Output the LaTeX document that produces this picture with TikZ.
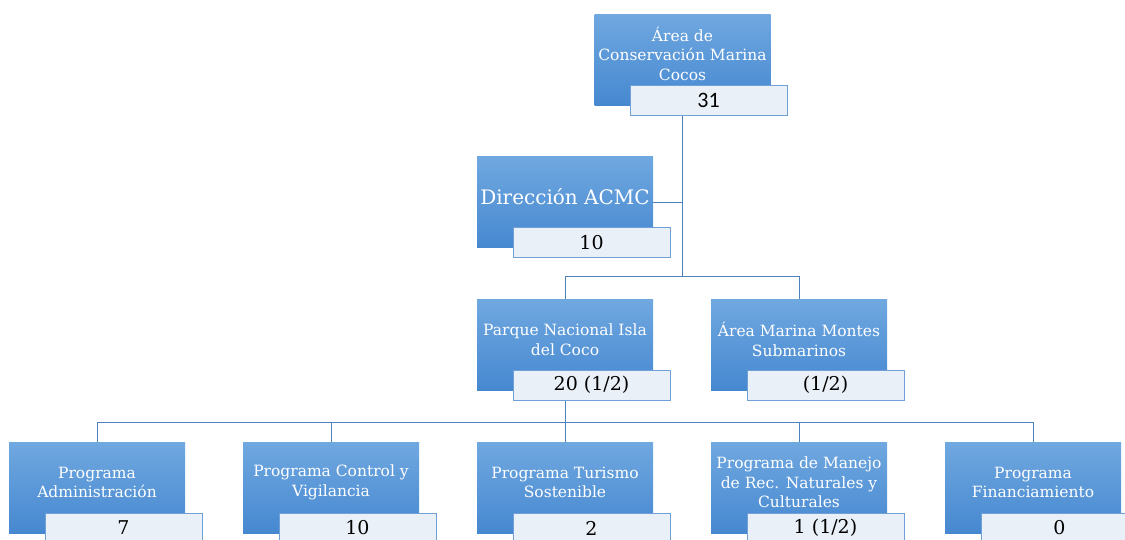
\documentclass[tikz,border=0pt]{standalone}
\usepackage{fontspec}
\setmainfont{DejaVu Serif}
\newfontfamily\numfont{Carlito}
\usetikzlibrary{positioning,backgrounds}
\definecolor{boxtop}{RGB}{112,168,224}
\definecolor{boxbot}{RGB}{70,136,208}
\definecolor{tagfill}{RGB}{234,240,248}
\definecolor{tagline}{RGB}{112,160,215}
\definecolor{linkcol}{RGB}{79,129,189}

\begin{document}
\begin{tikzpicture}[x=1pt,y=-1pt,
	unit/.style={top color=boxtop,bottom color=boxbot,minimum width=176pt,minimum height=91pt,inner sep=0pt},
	caption/.style={text=white,align=center,font=\fontsize{15.5}{19.5}\selectfont},
	tag/.style={draw=tagline,fill=tagfill,line width=1pt,minimum width=157pt,minimum height=30pt,inner sep=0pt,font=\fontsize{19}{22}\selectfont},
	link/.style={draw=linkcol,line width=1pt}]
	
	\useasboundingbox (0,0) rectangle (1125,539);
	
	% top level
	\node[unit] (top) at (682.5,59.5) {};
	\node[caption] (top-t) at ([yshift=6pt]top.center) {Área de\\Conservación Marina\\Cocos};
	\node[tag] (top-n) at ([xshift=26pt,yshift=-40.5pt]top.center) {\numfont\fontsize{22}{24}\selectfont 31};
	
	\node[unit] (dir) at (565,202) {};
	\node[caption,font=\fontsize{20}{24}\selectfont] (dir-t) at ([yshift=5pt]dir.center) {Dirección ACMC};
	\node[tag] (dir-n) at ([xshift=26.5pt,yshift=-40.5pt]dir.center) {10};
	
	% parks
	\node[unit] (pnic) at (565,344.5) {};
	\node[caption] (pnic-t) at ([yshift=5pt]pnic.center) {Parque Nacional Isla\\del Coco};
	\node[tag] (pnic-n) at ([xshift=26.5pt,yshift=-40.5pt]pnic.center) {20 (1/2)};
	
	\node[unit] (amms) at (799,344.5) {};
	\node[caption] (amms-t) at ([yshift=5pt]amms.center) {Área Marina Montes\\Submarinos};
	\node[tag] (amms-n) at ([xshift=26.5pt,yshift=-40.5pt]amms.center) {(1/2)};
	
	% programs
	\foreach \nm/\px/\txt/\num in {adm/97/{Programa\\Administración}/7,
		cyv/331/{Programa Control y\\Vigilancia}/10,
		tur/565/{Programa Turismo\\Sostenible}/2,
		rec/799/{Programa de Manejo\\de Rec. Naturales y\\Culturales}/{1 (1/2)},
		fin/1033/{Programa\\Financiamiento}/0}{
		\node[unit] (\nm) at (\px,487.5) {};
		\node[caption] (\nm-t) at ([yshift=5pt]\nm.center) {\txt};
		\node[tag] (\nm-n) at ([xshift=26.5pt,yshift=-40.5pt]\nm.center) {\num};
	}
	
	% connectors
	\begin{scope}[on background layer]
		\coordinate (hub) at (top.south |- 0,276);
		\coordinate (hub2) at (pnic.south |- 0,422);
		\draw[link] (top.south) -- (hub);
		\draw[link] (dir.east) -| (top.south);
		\draw[link] (hub) -| (pnic.north);
		\draw[link] (hub) -| (amms.north);
		\draw[link] (pnic.south) -- (hub2);
		\foreach \nm in {adm,cyv,tur,rec,fin}
			\draw[link] (hub2) -| (\nm.north);
	\end{scope}
	
\end{tikzpicture}
\end{document}
